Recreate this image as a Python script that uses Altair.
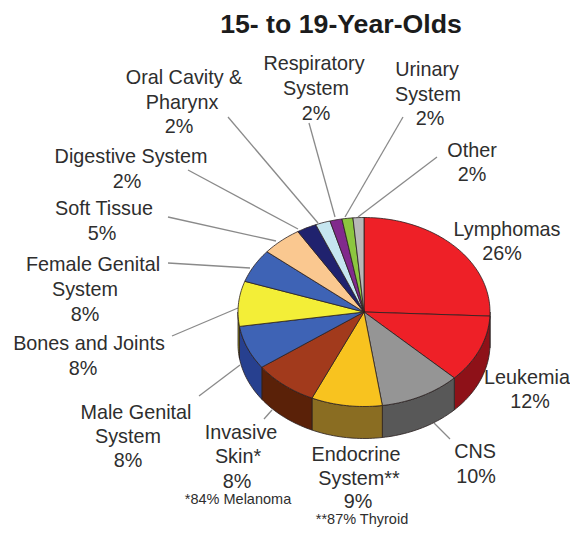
import math
import altair as alt
import pandas as pd

# Chart data
categories = ["Lymphomas", "Leukemia", "CNS", "Endocrine System", "Invasive Skin",
              "Male Genital System", "Bones and Joints", "Female Genital System",
              "Soft Tissue", "Digestive System", "Oral Cavity & Pharynx",
              "Respiratory System", "Urinary System", "Other"]
# drawn shares (the drawing differs a little from the printed labels)
shares = [25.7, 11.6, 10.4, 9.1, 8.3, 7.5, 7.7, 5.75, 5.2, 2.55, 1.9, 1.55, 1.4, 1.4]
top_colors = ["#ee2027", "#ee2027", "#959595", "#f8c31f", "#a23a1c", "#3e63b5", "#f3ee37",
              "#3e63b5", "#fac890", "#20226e", "#c6e6f0", "#812a8c", "#8cc63f", "#b8b8b8"]
side_colors = ["#8e1118", "#8e1118", "#585858", "#8a6d22", "#5a2108", "#27408f", "#8f8c20",
               "#27408f", "#a08050", "#101040", "#80a0a8", "#501858", "#508020", "#777777"]

title_text = "15- to 19-Year-Olds"
label_lines = ["Oral Cavity &", "Pharynx", "2%", "Respiratory", "System", "2%",
               "Urinary", "System", "2%", "Other", "2%", "Lymphomas", "26%",
               "Leukemia", "12%", "CNS", "10%", "Endocrine", "System**", "9%",
               "Invasive", "Skin*", "8%", "Male Genital", "System", "8%",
               "Bones and Joints", "8%", "Female Genital", "System", "8%",
               "Soft Tissue", "5%", "Digestive System", "2%"]
footnotes = ["*84% Melanoma", "**87% Thyroid"]

# Layout (page pixels)
label_x = [184, 182, 179, 314, 316, 316, 427, 428, 430, 472, 472, 507, 502,
           527, 530, 475, 476, 356, 359, 358, 241, 238, 237, 136, 128, 128,
           89, 83, 93, 85, 85, 104, 102, 131, 127]
label_y = [78, 103, 127, 64, 89, 114, 70, 95, 119, 151, 175, 230, 254,
           378, 402, 452, 477, 455, 479, 502, 433, 457, 482, 413, 437, 461,
           344, 369, 265, 290, 315, 209, 234, 157, 182]
foot_x = [238, 362]
foot_y = [500, 520]
lead_x1 = [228, 188, 168, 168, 172, 199, 264, 450, 437, 403, 309]
lead_y1 = [117, 170, 217, 263, 336, 396, 419, 439, 157, 117, 123]
lead_x2 = [318, 298, 276, 250, 238, 240, 272, 434, 358, 345, 335]
lead_y2 = [223, 229, 241, 268, 308, 365, 410, 423, 217, 217, 217]
PAGE = 8
CX, CY, RX, RY, DEPTH = 364 - PAGE, 312 - PAGE, 126, 94.5, 32


def pt(a, dy=0.0):
    r = math.radians(a)
    return [CX + RX * math.sin(r), CY - RY * math.cos(r) + dy]


def arc(a0, a1, dy=0.0):
    n = max(2, int(abs(a1 - a0) / 1.5) + 2)
    return [pt(a0 + (a1 - a0) * i / (n - 1), dy) for i in range(n)]


total = sum(shares)
tops, sides = [], []
start = 0.0
for name, s, tc, sc in zip(categories, shares, top_colors, side_colors):
    end = start + s / total * 360
    ring = [[CX, CY]] + arc(start, end) + [[CX, CY]]
    tops.append({"type": "Feature", "properties": {"c": tc, "name": name},
                 "geometry": {"type": "Polygon", "coordinates": [ring]}})
    a0, a1 = max(start, 90), min(end, 270)
    if a1 > a0:
        ring = arc(a0, a1) + arc(a1, a0, DEPTH)
        ring.append(ring[0])
        sides.append({"type": "Feature", "properties": {"c": sc, "name": name},
                      "geometry": {"type": "Polygon", "coordinates": [ring]}})
    start = end


def geo(features):
    return (alt.Chart(alt.InlineData(values={"type": "FeatureCollection", "features": features},
                                     format=alt.DataFormat(property="features", type="json")))
            .mark_geoshape(stroke="#2a2020", strokeWidth=0.8)
            .encode(fill=alt.Fill("properties.c:N", scale=None))
            .project(type="identity", scale=1, translate=[0, 0]))


leaders = pd.DataFrame({"x": [v - PAGE for v in lead_x1], "y": [v - PAGE for v in lead_y1],
                        "x2": [v - PAGE for v in lead_x2], "y2": [v - PAGE for v in lead_y2]})
labels = pd.DataFrame({"t": label_lines, "x": [v - PAGE for v in label_x], "y": [v - PAGE for v in label_y]})
foots = pd.DataFrame({"t": footnotes, "x": [v - PAGE for v in foot_x], "y": [v - PAGE for v in foot_y]})
title_df = pd.DataFrame({"t": [title_text], "x": [341 - PAGE], "y": [25 - PAGE]})

X = alt.X("x:Q", scale=None, axis=None)
Y = alt.Y("y:Q", scale=None, axis=None)


def text_layer(df, size, weight="normal", color="#2e2e2e"):
    return alt.Chart(df).mark_text(font="Liberation Sans", fontSize=size, fontWeight=weight,
                                   color=color, align="center", baseline="middle").encode(x=X, y=Y, text="t:N")


leader_layer = alt.Chart(leaders).mark_rule(color="#8a8a8a", strokeWidth=1.3).encode(
    x=X, y=Y, x2="x2:Q", y2="y2:Q")

chart = alt.layer(
    leader_layer,
    geo(sides),
    geo(tops),
    text_layer(labels, 19.8),
    text_layer(foots, 14.5),
    text_layer(title_df, 26.7, "bold", "#1c1c1c"),
).properties(width=562, height=519, padding=0, autosize=alt.AutoSizeParams(type="none"),
             background="white").configure_view(stroke=None)

chart.save("out.html", embed_options={"renderer": "svg", "actions": False})
